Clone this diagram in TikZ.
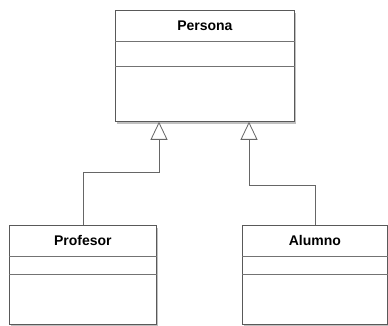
\documentclass[tikz,border=0pt]{standalone}
\usepackage{fontspec}
\setmainfont{Liberation Sans}
\usetikzlibrary{arrows.meta,shadows,calc}
\begin{document}
\begin{tikzpicture}[x=1pt,y=-1pt,
  classbox/.style={draw=black!65, line width=0.8pt, fill=white, anchor=north west, inner sep=0pt,
    drop shadow={shadow xshift=2pt,shadow yshift=-2.5pt,fill=black!45,opacity=0.55}},
  divider/.style={draw=black!55, line width=0.8pt},
  title/.style={font=\bfseries\fontsize{14}{16}\selectfont, inner sep=0pt},
  inherit/.style={draw=black!60, line width=0.8pt, -{Triangle[open,length=18pt,width=17pt,fill=white]}}]
\useasboundingbox (0,0) rectangle (388,326);
% classes
\node[classbox, minimum width=179pt, minimum height=111pt] (persona) at (115,10) {};
\node[classbox, minimum width=147pt, minimum height=99pt] (profesor) at (9,225) {};
\node[classbox, minimum width=145pt, minimum height=99pt] (alumno) at (242,225) {};
% titles
\node[title] (personaT) at ($(persona.north)+(0,15.5)$) {Persona};
\node[title] (profesorT) at ($(profesor.north)+(0,15.5)$) {Profesor};
\node[title] (alumnoT) at ($(alumno.north)+(0,15.5)$) {Alumno};
% dividers
\draw[divider] ($(persona.north west)+(0,31)$) -- ($(persona.north east)+(0,31)$);
\draw[divider] ($(persona.north west)+(0,56)$) -- ($(persona.north east)+(0,56)$);
\draw[divider] ($(profesor.north west)+(0,31)$) -- ($(profesor.north east)+(0,31)$);
\draw[divider] ($(profesor.north west)+(0,49)$) -- ($(profesor.north east)+(0,49)$);
\draw[divider] ($(alumno.north west)+(0,31)$) -- ($(alumno.north east)+(0,31)$);
\draw[divider] ($(alumno.north west)+(0,49)$) -- ($(alumno.north east)+(0,49)$);
% generalisations
\coordinate (pL) at ($(persona.south west)+(44,0)$);
\coordinate (pR) at ($(persona.south west)+(134,0)$);
\draw[inherit] (profesor.north) |- ($(pL)+(0,51)$) -- (pL);
\draw[inherit] (alumno.north) |- ($(pR)+(0,64)$) -- (pR);
\end{tikzpicture}
\end{document}
